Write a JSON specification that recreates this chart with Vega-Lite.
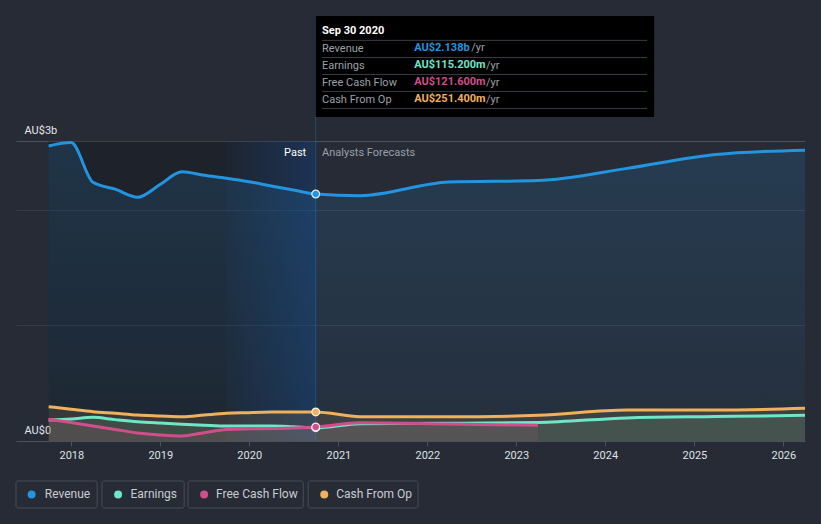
{
  "$schema": "https://vega.github.io/schema/vega-lite/v6.json",
  "width": 789,
  "height": 300,
  "autosize": {"type": "none"},
  "padding": {"left": 16, "right": 16, "top": 141, "bottom": 83},
  "background": "#262b36",
  "data": {"values": [{}]},
  "config": {
    "view": {"stroke": null},
    "font": "Roboto",
    "axisX": {
      "domainColor": "#4a505c",
      "tickColor": "#4a505c",
      "tickSize": 5,
      "labelColor": "#dfe2e6",
      "labelFontSize": 11,
      "labelFont": "Roboto",
      "labelPadding": 3,
      "grid": false,
      "labelFlush": false,
      "labelOverlap": false,
      "format": "%Y",
      "tickCount": {"interval": "year", "step": 1},
      "title": null
    },
    "axisY": {
      "domain": false,
      "ticks": false,
      "tickSize": 0,
      "labelAlign": "left",
      "labelPadding": -8,
      "labelBaseline": "alphabetic",
      "labelOffset": -8,
      "labelColor": "#e4e6ea",
      "labelFontSize": 11,
      "labelFont": "Roboto",
      "labelFlush": false,
      "labelOverlap": false,
      "grid": true,
      "title": null
    }
  },
  "datasets": {
    "fin": [
      {"date": "2017-09-30", "series": "Revenue", "value": 2554},
      {"date": "2017-12-31", "series": "Revenue", "value": 2583},
      {"date": "2018-03-31", "series": "Revenue", "value": 2240},
      {"date": "2018-06-30", "series": "Revenue", "value": 2180},
      {"date": "2018-09-30", "series": "Revenue", "value": 2110},
      {"date": "2018-12-31", "series": "Revenue", "value": 2220},
      {"date": "2019-03-31", "series": "Revenue", "value": 2330},
      {"date": "2019-06-30", "series": "Revenue", "value": 2300},
      {"date": "2019-09-30", "series": "Revenue", "value": 2275},
      {"date": "2019-12-31", "series": "Revenue", "value": 2245},
      {"date": "2020-03-31", "series": "Revenue", "value": 2208},
      {"date": "2020-06-30", "series": "Revenue", "value": 2173},
      {"date": "2020-09-30", "series": "Revenue", "value": 2138},
      {"date": "2021-03-31", "series": "Revenue", "value": 2124},
      {"date": "2022-03-31", "series": "Revenue", "value": 2242},
      {"date": "2023-03-31", "series": "Revenue", "value": 2254},
      {"date": "2024-03-31", "series": "Revenue", "value": 2360},
      {"date": "2025-03-31", "series": "Revenue", "value": 2480},
      {"date": "2026-03-31", "series": "Revenue", "value": 2517},

      {"date": "2017-09-30", "series": "Earnings", "value": 182},
      {"date": "2017-12-31", "series": "Earnings", "value": 190},
      {"date": "2018-03-31", "series": "Earnings", "value": 205},
      {"date": "2018-06-30", "series": "Earnings", "value": 185},
      {"date": "2018-09-30", "series": "Earnings", "value": 167},
      {"date": "2018-12-31", "series": "Earnings", "value": 155},
      {"date": "2019-03-31", "series": "Earnings", "value": 145},
      {"date": "2019-06-30", "series": "Earnings", "value": 137},
      {"date": "2019-09-30", "series": "Earnings", "value": 130},
      {"date": "2019-12-31", "series": "Earnings", "value": 130},
      {"date": "2020-03-31", "series": "Earnings", "value": 130},
      {"date": "2020-06-30", "series": "Earnings", "value": 124},
      {"date": "2020-09-30", "series": "Earnings", "value": 115.2},
      {"date": "2021-03-31", "series": "Earnings", "value": 150},
      {"date": "2022-03-31", "series": "Earnings", "value": 153},
      {"date": "2023-03-31", "series": "Earnings", "value": 160},
      {"date": "2024-03-31", "series": "Earnings", "value": 200},
      {"date": "2025-03-31", "series": "Earnings", "value": 212},
      {"date": "2026-03-31", "series": "Earnings", "value": 222},

      {"date": "2017-09-30", "series": "Free Cash Flow", "value": 188},
      {"date": "2017-12-31", "series": "Free Cash Flow", "value": 160},
      {"date": "2018-03-31", "series": "Free Cash Flow", "value": 130},
      {"date": "2018-06-30", "series": "Free Cash Flow", "value": 100},
      {"date": "2018-09-30", "series": "Free Cash Flow", "value": 70},
      {"date": "2018-12-31", "series": "Free Cash Flow", "value": 52},
      {"date": "2019-03-31", "series": "Free Cash Flow", "value": 43},
      {"date": "2019-06-30", "series": "Free Cash Flow", "value": 72},
      {"date": "2019-09-30", "series": "Free Cash Flow", "value": 100},
      {"date": "2019-12-31", "series": "Free Cash Flow", "value": 105},
      {"date": "2020-03-31", "series": "Free Cash Flow", "value": 108},
      {"date": "2020-06-30", "series": "Free Cash Flow", "value": 113},
      {"date": "2020-09-30", "series": "Free Cash Flow", "value": 121.6},
      {"date": "2021-03-31", "series": "Free Cash Flow", "value": 158},
      {"date": "2022-03-31", "series": "Free Cash Flow", "value": 147},
      {"date": "2023-03-31", "series": "Free Cash Flow", "value": 136},

      {"date": "2017-09-30", "series": "Cash From Op", "value": 297},
      {"date": "2017-12-31", "series": "Cash From Op", "value": 275},
      {"date": "2018-03-31", "series": "Cash From Op", "value": 254},
      {"date": "2018-06-30", "series": "Cash From Op", "value": 240},
      {"date": "2018-09-30", "series": "Cash From Op", "value": 225},
      {"date": "2018-12-31", "series": "Cash From Op", "value": 217},
      {"date": "2019-03-31", "series": "Cash From Op", "value": 210},
      {"date": "2019-06-30", "series": "Cash From Op", "value": 225},
      {"date": "2019-09-30", "series": "Cash From Op", "value": 240},
      {"date": "2019-12-31", "series": "Cash From Op", "value": 245},
      {"date": "2020-03-31", "series": "Cash From Op", "value": 250},
      {"date": "2020-06-30", "series": "Cash From Op", "value": 252},
      {"date": "2020-09-30", "series": "Cash From Op", "value": 251.4},
      {"date": "2021-03-31", "series": "Cash From Op", "value": 210},
      {"date": "2022-03-31", "series": "Cash From Op", "value": 209},
      {"date": "2023-03-31", "series": "Cash From Op", "value": 222},
      {"date": "2024-03-31", "series": "Cash From Op", "value": 268},
      {"date": "2025-03-31", "series": "Cash From Op", "value": 268},
      {"date": "2026-03-31", "series": "Cash From Op", "value": 283}
    ]
  },
  "layer": [
    {
      "mark": {"type": "rect", "fill": "#000000", "opacity": 0.2},
      "encoding": {
        "x": {"datum": {"year": 2017, "month": 9, "date": 30, "utc": true}, "type": "temporal"},
        "x2": {"datum": {"year": 2020, "month": 9, "date": 30, "utc": true}},
        "y": {"datum": 0, "type": "quantitative"},
        "y2": {"datum": 2597}
      }
    },
    {
      "mark": {"type": "rect", "fill": {"gradient": "linear", "x1": 0, "x2": 1, "y1": 0, "y2": 0, "stops": [{"offset": 0, "color": "rgba(20,100,200,0.04)"}, {"offset": 1, "color": "rgba(20,100,200,0.26)"}]}},
      "encoding": {
        "x": {"datum": {"year": 2019, "month": 9, "date": 30, "utc": true}, "type": "temporal"},
        "x2": {"datum": {"year": 2020, "month": 9, "date": 30, "utc": true}},
        "y": {"datum": 0, "type": "quantitative"},
        "y2": {"datum": 2597}
      }
    },
    {
      "data": {"name": "fin"},
      "transform": [{"filter": "datum.series == 'Revenue'"}],
      "mark": {"type": "area", "interpolate": "monotone", "fill": {"gradient": "linear", "x1": 0, "x2": 0, "y1": 0, "y2": 1, "stops": [{"offset": 0, "color": "rgba(35,148,223,0.16)"}, {"offset": 1, "color": "rgba(35,148,223,0.04)"}]}},
      "encoding": {
        "x": {"field": "date", "type": "temporal", "title": null},
        "y": {"field": "value", "type": "quantitative", "title": null}
      }
    },
    {
      "data": {"name": "fin"},
      "transform": [{"filter": "datum.series != 'Revenue'"}],
      "mark": {"type": "area", "interpolate": "monotone", "fillOpacity": 0.12},
      "encoding": {
        "x": {"field": "date", "type": "temporal", "title": null},
        "y": {"field": "value", "type": "quantitative", "title": null, "stack": null},
        "color": {"field": "series", "type": "nominal", "legend": null}
      }
    },
    {
      "data": {"name": "fin"},
      "mark": {"type": "line", "interpolate": "monotone", "strokeWidth": 3},
      "encoding": {
        "x": {
          "field": "date", "type": "temporal", "title": null,
          "scale": {"type": "utc", "domain": [{"year": 2017, "month": 5, "date": 19, "utc": true}, {"year": 2026, "month": 3, "date": 31, "utc": true}]}
        },
        "y": {
          "field": "value", "type": "quantitative", "title": null,
          "scale": {"domain": [0, 2597], "nice": false},
          "axis": {
            "values": [0, 1000, 2000, 2597],
            "labelExpr": "datum.value == 0 ? 'AU$0' : datum.value > 2500 ? 'AU$3b' : ''",
            "gridColor": {"condition": {"test": "datum.value > 2500", "value": "#4a505c"}, "value": "#353c49"}
          }
        },
        "color": {
          "field": "series", "type": "nominal",
          "scale": {"domain": ["Revenue", "Earnings", "Free Cash Flow", "Cash From Op"], "range": ["#2394df", "#6ee6c8", "#cf4f8d", "#efb15b"]},
          "legend": null
        },
        "order": {"field": "series"}
      }
    },
    {
      "mark": {"type": "rule", "stroke": "#2394df", "strokeOpacity": 0.3, "strokeWidth": 1},
      "encoding": {
        "x": {"datum": {"year": 2020, "month": 9, "date": 30, "utc": true}, "type": "temporal"},
        "y": {"datum": 0, "type": "quantitative"},
        "y2": {"datum": 3680}
      }
    },
    {
      "data": {"name": "fin"},
      "transform": [{"filter": "time(datum.date) === utc(2020, 8, 30)"}],
      "mark": {"type": "point", "filled": true, "size": 60, "stroke": "#ffffff", "strokeWidth": 1.2, "strokeOpacity": 0.85, "opacity": 1},
      "encoding": {
        "x": {"field": "date", "type": "temporal", "title": null},
        "y": {"field": "value", "type": "quantitative", "title": null},
        "fill": {"field": "series", "type": "nominal", "scale": {"domain": ["Revenue", "Earnings", "Free Cash Flow", "Cash From Op"], "range": ["#2394df", "#6ee6c8", "#cf4f8d", "#efb15b"]}, "legend": null}
      }
    },
    {
      "mark": {"type": "text", "text": "Past", "align": "right", "baseline": "middle", "fontSize": 11, "color": "#ffffff"},
      "encoding": {
        "x": {"datum": {"year": 2020, "month": 8, "date": 22, "utc": true}, "type": "temporal"},
        "y": {"datum": 2494, "type": "quantitative"}
      }
    },
    {
      "mark": {"type": "text", "text": "Analysts Forecasts", "align": "left", "baseline": "middle", "fontSize": 11, "color": "#9aa0a8"},
      "encoding": {
        "x": {"datum": {"year": 2020, "month": 10, "date": 26, "utc": true}, "type": "temporal"},
        "y": {"datum": 2494, "type": "quantitative"}
      }
    },
    {
      "mark": {"type": "rect", "fill": null, "stroke": "#464c58", "strokeWidth": 1, "cornerRadius": 2},
      "encoding": {
        "x": {"datum": {"year": 2017, "month": 5, "date": 19, "utc": true}, "type": "temporal"},
        "x2": {"datum": {"year": 2018, "month": 4, "date": 17, "utc": true}},
        "y": {"datum": -346, "type": "quantitative"},
        "y2": {"datum": -580}
      }
    },
    {
      "mark": {"type": "rect", "fill": null, "stroke": "#464c58", "strokeWidth": 1, "cornerRadius": 2},
      "encoding": {
        "x": {"datum": {"year": 2018, "month": 5, "date": 7, "utc": true}, "type": "temporal"},
        "x2": {"datum": {"year": 2019, "month": 4, "date": 9, "utc": true}},
        "y": {"datum": -346, "type": "quantitative"},
        "y2": {"datum": -580}
      }
    },
    {
      "mark": {"type": "rect", "fill": null, "stroke": "#464c58", "strokeWidth": 1, "cornerRadius": 2},
      "encoding": {
        "x": {"datum": {"year": 2019, "month": 4, "date": 25, "utc": true}, "type": "temporal"},
        "x2": {"datum": {"year": 2020, "month": 8, "date": 10, "utc": true}},
        "y": {"datum": -346, "type": "quantitative"},
        "y2": {"datum": -580}
      }
    },
    {
      "mark": {"type": "rect", "fill": null, "stroke": "#464c58", "strokeWidth": 1, "cornerRadius": 2},
      "encoding": {
        "x": {"datum": {"year": 2020, "month": 8, "date": 30, "utc": true}, "type": "temporal"},
        "x2": {"datum": {"year": 2021, "month": 11, "date": 24, "utc": true}},
        "y": {"datum": -346, "type": "quantitative"},
        "y2": {"datum": -580}
      }
    },
    {
      "mark": {"type": "point", "shape": "circle", "filled": true, "size": 64, "opacity": 1, "color": "#2394df"},
      "encoding": {
        "x": {"datum": {"year": 2017, "month": 7, "date": 22, "utc": true}, "type": "temporal"},
        "y": {"datum": -463, "type": "quantitative"}
      }
    },
    {
      "mark": {"type": "point", "shape": "circle", "filled": true, "size": 64, "opacity": 1, "color": "#6ee6c8"},
      "encoding": {
        "x": {"datum": {"year": 2018, "month": 7, "date": 12, "utc": true}, "type": "temporal"},
        "y": {"datum": -463, "type": "quantitative"}
      }
    },
    {
      "mark": {"type": "point", "shape": "circle", "filled": true, "size": 64, "opacity": 1, "color": "#cf4f8d"},
      "encoding": {
        "x": {"datum": {"year": 2019, "month": 6, "date": 30, "utc": true}, "type": "temporal"},
        "y": {"datum": -463, "type": "quantitative"}
      }
    },
    {
      "mark": {"type": "point", "shape": "circle", "filled": true, "size": 64, "opacity": 1, "color": "#efb15b"},
      "encoding": {
        "x": {"datum": {"year": 2020, "month": 11, "date": 4, "utc": true}, "type": "temporal"},
        "y": {"datum": -463, "type": "quantitative"}
      }
    },
    {
      "mark": {"type": "text", "text": "Revenue", "align": "left", "baseline": "middle", "fontSize": 12, "color": "#c9ccd1"},
      "encoding": {
        "x": {"datum": {"year": 2017, "month": 9, "date": 14, "utc": true}, "type": "temporal"},
        "y": {"datum": -463, "type": "quantitative"}
      }
    },
    {
      "mark": {"type": "text", "text": "Earnings", "align": "left", "baseline": "middle", "fontSize": 12, "color": "#c9ccd1"},
      "encoding": {
        "x": {"datum": {"year": 2018, "month": 9, "date": 1, "utc": true}, "type": "temporal"},
        "y": {"datum": -463, "type": "quantitative"}
      }
    },
    {
      "mark": {"type": "text", "text": "Free Cash Flow", "align": "left", "baseline": "middle", "fontSize": 12, "color": "#c9ccd1"},
      "encoding": {
        "x": {"datum": {"year": 2019, "month": 8, "date": 18, "utc": true}, "type": "temporal"},
        "y": {"datum": -463, "type": "quantitative"}
      }
    },
    {
      "mark": {"type": "text", "text": "Cash From Op", "align": "left", "baseline": "middle", "fontSize": 12, "color": "#c9ccd1"},
      "encoding": {
        "x": {"datum": {"year": 2020, "month": 12, "date": 23, "utc": true}, "type": "temporal"},
        "y": {"datum": -463, "type": "quantitative"}
      }
    },
    {
      "mark": {"type": "rect", "fill": "#000000"},
      "encoding": {
        "x": {"datum": {"year": 2020, "month": 9, "date": 30, "utc": true}, "type": "temporal"},
        "x2": {"datum": {"year": 2024, "month": 7, "date": 20, "utc": true}},
        "y": {"datum": 2805, "type": "quantitative"},
        "y2": {"datum": 3680}
      }
    },
    {
      "mark": {"type": "rule", "stroke": "#3a3d44", "strokeWidth": 1},
      "encoding": {
        "x": {"datum": {"year": 2020, "month": 10, "date": 26, "utc": true}, "type": "temporal"},
        "x2": {"datum": {"year": 2024, "month": 6, "date": 21, "utc": true}},
        "y": {"datum": 3468, "type": "quantitative"}
      }
    },
    {
      "mark": {"type": "rule", "stroke": "#3a3d44", "strokeWidth": 1},
      "encoding": {
        "x": {"datum": {"year": 2020, "month": 10, "date": 26, "utc": true}, "type": "temporal"},
        "x2": {"datum": {"year": 2024, "month": 6, "date": 21, "utc": true}},
        "y": {"datum": 3320, "type": "quantitative"}
      }
    },
    {
      "mark": {"type": "rule", "stroke": "#3a3d44", "strokeWidth": 1},
      "encoding": {
        "x": {"datum": {"year": 2020, "month": 10, "date": 26, "utc": true}, "type": "temporal"},
        "x2": {"datum": {"year": 2024, "month": 6, "date": 21, "utc": true}},
        "y": {"datum": 3173, "type": "quantitative"}
      }
    },
    {
      "mark": {"type": "rule", "stroke": "#3a3d44", "strokeWidth": 1},
      "encoding": {
        "x": {"datum": {"year": 2020, "month": 10, "date": 26, "utc": true}, "type": "temporal"},
        "x2": {"datum": {"year": 2024, "month": 6, "date": 21, "utc": true}},
        "y": {"datum": 3026, "type": "quantitative"}
      }
    },
    {
      "mark": {"type": "rule", "stroke": "#3a3d44", "strokeWidth": 1},
      "encoding": {
        "x": {"datum": {"year": 2020, "month": 10, "date": 26, "utc": true}, "type": "temporal"},
        "x2": {"datum": {"year": 2024, "month": 6, "date": 21, "utc": true}},
        "y": {"datum": 2879, "type": "quantitative"}
      }
    },
    {
      "mark": {"type": "text", "text": "Sep 30 2020", "align": "left", "baseline": "middle", "fontSize": 11, "fontWeight": "bold", "color": "#ffffff"},
      "encoding": {
        "x": {"datum": {"year": 2020, "month": 10, "date": 26, "utc": true}, "type": "temporal"},
        "y": {"datum": 3550, "type": "quantitative"}
      }
    },
    {
      "mark": {"type": "text", "text": ["Revenue", "Earnings", "Free Cash Flow", "Cash From Op"], "lineHeight": 17, "align": "left", "baseline": "alphabetic", "fontSize": 11, "color": "#9aa0a8"},
      "encoding": {
        "x": {"datum": {"year": 2020, "month": 10, "date": 26, "utc": true}, "type": "temporal"},
        "y": {"datum": 3368, "type": "quantitative"}
      }
    },
    {
      "mark": {"type": "text", "text": "AU$2.138b", "align": "left", "baseline": "middle", "fontSize": 11, "fontWeight": "bold", "color": "#2394df"},
      "encoding": {
        "x": {"datum": {"year": 2021, "month": 11, "date": 8, "utc": true}, "type": "temporal"},
        "y": {"datum": 3403, "type": "quantitative"}
      }
    },
    {
      "mark": {"type": "text", "text": "AU$115.200m", "align": "left", "baseline": "middle", "fontSize": 11, "fontWeight": "bold", "color": "#6ee6c8"},
      "encoding": {
        "x": {"datum": {"year": 2021, "month": 11, "date": 8, "utc": true}, "type": "temporal"},
        "y": {"datum": 3255, "type": "quantitative"}
      }
    },
    {
      "mark": {"type": "text", "text": "AU$121.600m", "align": "left", "baseline": "middle", "fontSize": 11, "fontWeight": "bold", "color": "#cf4f8d"},
      "encoding": {
        "x": {"datum": {"year": 2021, "month": 11, "date": 8, "utc": true}, "type": "temporal"},
        "y": {"datum": 3108, "type": "quantitative"}
      }
    },
    {
      "mark": {"type": "text", "text": "AU$251.400m", "align": "left", "baseline": "middle", "fontSize": 11, "fontWeight": "bold", "color": "#efb15b"},
      "encoding": {
        "x": {"datum": {"year": 2021, "month": 11, "date": 8, "utc": true}, "type": "temporal"},
        "y": {"datum": 2961, "type": "quantitative"}
      }
    },
    {
      "mark": {"type": "text", "text": "/yr", "align": "left", "baseline": "middle", "fontSize": 11, "color": "#9aa0a8"},
      "encoding": {
        "x": {"datum": {"year": 2022, "month": 6, "date": 30, "utc": true}, "type": "temporal"},
        "y": {"datum": 3403, "type": "quantitative"}
      }
    },
    {
      "mark": {"type": "text", "text": ["/yr", "/yr", "/yr"], "lineHeight": 17, "align": "left", "baseline": "alphabetic", "fontSize": 11, "color": "#9aa0a8"},
      "encoding": {
        "x": {"datum": {"year": 2022, "month": 8, "date": 30, "utc": true}, "type": "temporal"},
        "y": {"datum": 3220, "type": "quantitative"}
      }
    }
  ]
}
